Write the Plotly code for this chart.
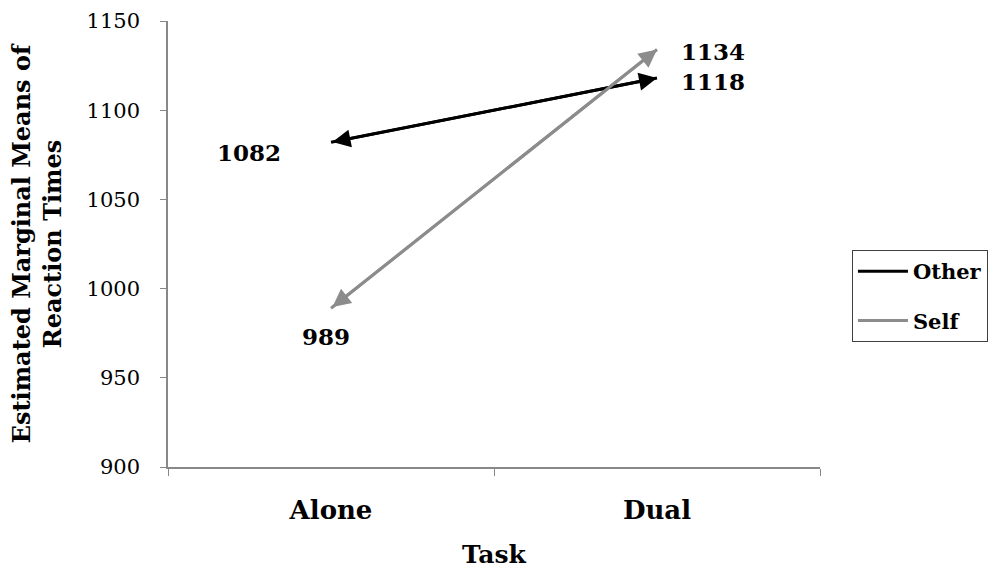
import plotly.graph_objects as go

tasks = ["Alone", "Dual"]
other = [1082, 1118]
self_vals = [989, 1134]
series_names = ["Other", "Self"]
colors = ["#000000", "#8c8c8c"]
y_ticks = [900, 950, 1000, 1050, 1100, 1150]

FONT = "DejaVu Serif"

fig = go.Figure()
for i, (name, vals) in enumerate(zip(series_names, [other, self_vals])):
    fig.add_trace(go.Scatter(
        x=tasks, y=vals, mode="lines", name="<b>%s</b>" % name,
        line=dict(color=colors[i], width=3),
        legendgroup=name,
    ))
    fig.add_annotation(
        x=1, y=vals[1], ax=0, ay=vals[0], xref="x", yref="y", axref="x", ayref="y",
        text="", showarrow=True, arrowhead=2, startarrowhead=2, arrowside="end+start",
        arrowsize=1.2, startarrowsize=1.2, arrowwidth=3, arrowcolor=colors[i],
        standoff=0, startstandoff=0,
    )

label_font = dict(family=FONT, size=23, color="#000")
fig.add_annotation(x=0, y=other[0], text="<b>%d</b>" % other[0], showarrow=False,
                   xshift=-82, yshift=-10, font=label_font)
fig.add_annotation(x=0, y=self_vals[0], text="<b>%d</b>" % self_vals[0], showarrow=False,
                   xshift=-5, yshift=-28, font=label_font)
fig.add_annotation(x=1, y=self_vals[1], text="<b>%d</b>" % self_vals[1], showarrow=False,
                   xshift=56, yshift=-2, font=label_font)
fig.add_annotation(x=1, y=other[1], text="<b>%d</b>" % other[1], showarrow=False,
                   xshift=56, yshift=-3, font=label_font)

fig.update_layout(
    width=1000, height=569,
    margin=dict(l=168, r=178, t=21, b=102),
    paper_bgcolor="white", plot_bgcolor="white",
    font=dict(family=FONT, color="#000"),
    showlegend=True,
    legend=dict(
        x=1.049, y=0.4865, xanchor="left", yanchor="top",
        bordercolor="#404040", borderwidth=1,
        font=dict(family=FONT, size=21, color="#000"),
        traceorder="grouped", tracegroupgap=19,
        itemwidth=50,
    ),
    xaxis=dict(
        type="category", range=[-0.5, 1.5], tickson="boundaries", automargin=False,
        ticks="outside", ticklen=7, tickcolor="#888", linecolor="#888", linewidth=1.5,
        showline=True, showgrid=False, zeroline=False,
        tickfont=dict(family=FONT, size=26, color="#000"),
        ticklabelstandoff=19,
        title=dict(text="<b>Task</b>", font=dict(family=FONT, size=25, color="#000"), standoff=24),
        tickprefix="<b>", ticksuffix="</b>",
    ),
    yaxis=dict(
        range=[900, 1150], tickvals=y_ticks, automargin=False,
        ticks="outside", ticklen=6, tickcolor="#888", linecolor="#888", linewidth=1.5,
        showline=True, showgrid=False, zeroline=False,
        tickfont=dict(family=FONT, size=21, color="#000"),
        ticklabelstandoff=16,
        title=dict(text="<b>Estimated Marginal Means of<br>Reaction Times</b>",
                   font=dict(family=FONT, size=24, color="#000"), standoff=18),
    ),
)

fig.write_html("out.html", config={"displayModeBar": False},
               post_script="document.body.style.margin='0';")
